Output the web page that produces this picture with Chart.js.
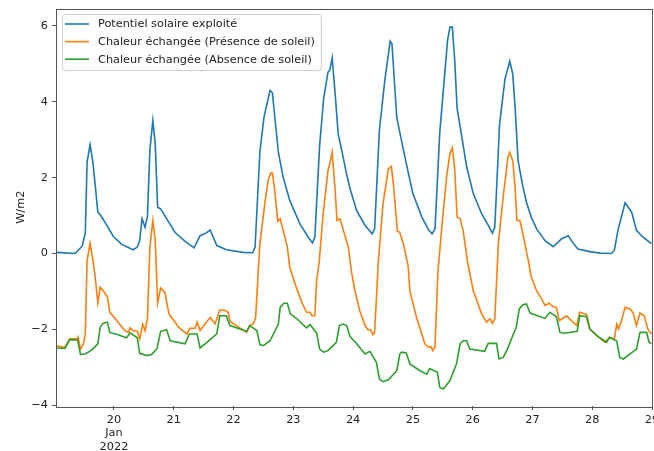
<!DOCTYPE html>
<html>
<head>
<meta charset="utf-8">
<script src="https://cdn.jsdelivr.net/npm/chart.js@4.4.0/dist/chart.umd.min.js"></script>
<style>
  html, body { margin: 0; padding: 0; background: #fff; overflow: hidden; }
  #wrap { position: relative; width: 654px; height: 451px; }
</style>
</head>
<body>
<div id="wrap"><canvas id="chaleurChart"></canvas></div>
<script>
// jours de janvier 2022 (fraction de jour)
const joursSolaire = [19.04, 19.35, 19.47, 19.52, 19.55, 19.60, 19.65, 19.73, 19.78, 19.88, 19.99, 20.13, 20.32, 20.39, 20.43, 20.47, 20.52, 20.56, 20.60, 20.65, 20.69, 20.73, 20.78, 20.88, 21.02, 21.19, 21.34, 21.44, 21.55, 21.61, 21.72, 21.88, 22.16, 22.32, 22.36, 22.44, 22.51, 22.61, 22.65, 22.69, 22.75, 22.83, 22.94, 23.11, 23.25, 23.32, 23.36, 23.44, 23.51, 23.58, 23.61, 23.65, 23.70, 23.75, 23.81, 23.89, 23.95, 24.06, 24.20, 24.32, 24.36, 24.44, 24.53, 24.62, 24.65, 24.73, 24.78, 24.89, 25.00, 25.15, 25.26, 25.32, 25.37, 25.45, 25.54, 25.58, 25.62, 25.66, 25.70, 25.74, 25.81, 25.90, 26.01, 26.15, 26.28, 26.33, 26.37, 26.45, 26.54, 26.62, 26.67, 26.71, 26.76, 26.83, 26.90, 26.98, 27.07, 27.21, 27.35, 27.49, 27.60, 27.65, 27.76, 27.96, 28.13, 28.32, 28.37, 28.43, 28.55, 28.66, 28.74, 28.85, 28.99];
const solaire = [0.03, 0.0, 0.2, 0.54, 2.41, 2.87, 2.37, 1.09, 1.0, 0.74, 0.45, 0.24, 0.1, 0.17, 0.34, 0.92, 0.69, 0.98, 2.72, 3.51, 2.89, 1.22, 1.18, 0.92, 0.56, 0.32, 0.15, 0.47, 0.55, 0.62, 0.21, 0.1, 0.03, 0.02, 0.17, 2.67, 3.6, 4.3, 4.24, 3.6, 2.67, 2.01, 1.4, 0.78, 0.43, 0.28, 0.43, 2.85, 4.12, 4.78, 4.83, 5.16, 4.21, 3.16, 2.72, 2.1, 1.7, 1.13, 0.74, 0.52, 0.65, 3.25, 4.56, 5.6, 5.53, 3.6, 3.2, 2.37, 1.58, 0.96, 0.63, 0.52, 0.65, 3.2, 4.87, 5.62, 5.97, 5.97, 5.09, 3.82, 3.16, 2.28, 1.58, 1.05, 0.69, 0.54, 0.69, 3.4, 4.6, 5.07, 4.74, 3.86, 2.45, 1.84, 1.35, 0.96, 0.65, 0.34, 0.18, 0.39, 0.47, 0.34, 0.12, 0.05, 0.01, 0.0, 0.08, 0.61, 1.34, 1.09, 0.61, 0.43, 0.26];

const joursPresence = [19.04, 19.18, 19.26, 19.39, 19.40, 19.44, 19.49, 19.52, 19.55, 19.60, 19.64, 19.68, 19.73, 19.77, 19.82, 19.89, 19.93, 20.05, 20.18, 20.24, 20.27, 20.32, 20.39, 20.43, 20.48, 20.52, 20.56, 20.60, 20.65, 20.69, 20.73, 20.78, 20.85, 20.92, 21.08, 21.22, 21.27, 21.36, 21.39, 21.44, 21.61, 21.69, 21.77, 21.86, 21.91, 21.94, 22.05, 22.22, 22.27, 22.33, 22.37, 22.44, 22.53, 22.58, 22.62, 22.65, 22.69, 22.74, 22.78, 22.83, 22.90, 22.94, 23.03, 23.14, 23.22, 23.28, 23.31, 23.36, 23.39, 23.43, 23.50, 23.58, 23.61, 23.65, 23.70, 23.73, 23.78, 23.83, 23.92, 23.97, 24.03, 24.11, 24.20, 24.25, 24.29, 24.33, 24.36, 24.42, 24.50, 24.59, 24.64, 24.68, 24.74, 24.78, 24.84, 24.92, 24.95, 25.06, 25.20, 25.26, 25.30, 25.33, 25.37, 25.42, 25.51, 25.57, 25.62, 25.66, 25.70, 25.74, 25.79, 25.84, 25.92, 26.01, 26.15, 26.23, 26.29, 26.33, 26.37, 26.43, 26.51, 26.59, 26.62, 26.67, 26.71, 26.74, 26.79, 26.84, 26.93, 26.98, 27.07, 27.15, 27.21, 27.28, 27.34, 27.40, 27.45, 27.57, 27.65, 27.74, 27.79, 27.91, 27.96, 28.07, 28.21, 28.29, 28.37, 28.41, 28.44, 28.49, 28.55, 28.63, 28.68, 28.74, 28.80, 28.87, 28.93, 28.99];
const presence = [-2.43, -2.47, -2.25, -2.25, -2.21, -2.52, -2.38, -2.12, -0.18, 0.27, -0.1, -0.54, -1.3, -0.89, -0.98, -1.15, -1.55, -1.77, -2.03, -2.08, -1.96, -2.03, -2.05, -2.25, -1.86, -2.03, -1.72, 0.17, 0.87, 0.34, -1.3, -0.91, -1.02, -1.59, -1.94, -2.12, -1.97, -1.97, -1.81, -2.03, -1.68, -1.86, -1.49, -1.5, -1.55, -1.79, -1.9, -2.08, -1.9, -1.86, -1.68, 0.25, 1.4, 1.93, 2.12, 2.12, 1.66, 0.85, 0.92, 0.61, 0.17, -0.36, -0.8, -1.28, -1.55, -1.55, -1.64, -1.64, -0.71, -0.27, 1.05, 2.19, 2.37, 2.67, 1.66, 0.87, 0.92, 0.65, 0.17, -0.45, -0.98, -1.5, -1.9, -2.01, -2.01, -2.14, -2.08, -0.27, 1.31, 2.23, 2.3, 1.75, 0.59, 0.56, 0.26, -0.32, -0.98, -1.68, -2.38, -2.47, -2.45, -2.56, -2.47, -0.45, 1.13, 2.1, 2.63, 2.79, 2.23, 0.96, 0.92, 0.61, -0.27, -0.98, -1.59, -1.81, -1.72, -1.84, -1.72, 0.26, 1.49, 2.54, 2.67, 2.45, 1.75, 0.87, 0.87, 0.52, -0.18, -0.62, -0.98, -1.19, -1.37, -1.31, -1.4, -1.42, -1.77, -1.64, -1.77, -1.9, -1.55, -1.61, -1.99, -2.16, -2.34, -2.21, -2.25, -1.86, -1.99, -1.77, -1.42, -1.46, -1.55, -1.9, -1.57, -1.64, -1.99, -2.12];

const joursAbsence = [19.04, 19.18, 19.26, 19.39, 19.44, 19.52, 19.63, 19.73, 19.77, 19.82, 19.89, 19.93, 20.07, 20.21, 20.27, 20.39, 20.43, 20.55, 20.63, 20.72, 20.78, 20.88, 20.94, 21.19, 21.26, 21.39, 21.44, 21.55, 21.72, 21.77, 21.88, 21.94, 22.22, 22.27, 22.39, 22.44, 22.50, 22.61, 22.75, 22.78, 22.84, 22.90, 22.95, 23.06, 23.22, 23.28, 23.39, 23.44, 23.51, 23.58, 23.72, 23.77, 23.83, 23.89, 23.95, 24.06, 24.20, 24.28, 24.39, 24.44, 24.50, 24.59, 24.73, 24.78, 24.81, 24.89, 24.95, 25.12, 25.23, 25.28, 25.41, 25.45, 25.51, 25.62, 25.73, 25.79, 25.84, 25.90, 25.95, 26.20, 26.26, 26.40, 26.44, 26.51, 26.57, 26.73, 26.78, 26.84, 26.90, 26.96, 27.21, 27.29, 27.40, 27.46, 27.54, 27.75, 27.79, 27.90, 27.96, 28.10, 28.24, 28.29, 28.41, 28.46, 28.52, 28.74, 28.80, 28.91, 28.95, 28.99];
const absence = [-2.49, -2.5, -2.27, -2.28, -2.66, -2.65, -2.54, -2.38, -1.94, -1.84, -1.81, -2.08, -2.14, -2.22, -2.09, -2.22, -2.63, -2.69, -2.66, -2.51, -2.05, -2.01, -2.3, -2.38, -2.12, -2.12, -2.49, -2.35, -2.12, -1.64, -1.64, -1.9, -2.05, -1.9, -2.03, -2.4, -2.43, -2.3, -1.86, -1.42, -1.31, -1.31, -1.59, -1.72, -1.96, -1.87, -2.1, -2.52, -2.6, -2.56, -2.34, -1.9, -1.86, -1.9, -2.19, -2.38, -2.65, -2.58, -2.87, -3.31, -3.38, -3.33, -3.09, -2.65, -2.6, -2.62, -2.91, -3.09, -3.18, -3.03, -3.13, -3.53, -3.57, -3.35, -2.91, -2.38, -2.3, -2.3, -2.52, -2.58, -2.37, -2.37, -2.78, -2.74, -2.56, -1.94, -1.46, -1.35, -1.33, -1.57, -1.71, -1.55, -1.66, -2.08, -2.1, -2.05, -1.64, -1.66, -1.99, -2.19, -2.34, -2.21, -2.31, -2.74, -2.78, -2.52, -2.08, -2.08, -2.34, -2.37];

const xTicks = [20, 21, 22, 23, 24, 25, 26, 27, 28, 29];
const yTicks = [-4, -2, 0, 2, 4, 6];

const police = { family: "'DejaVu Sans', sans-serif", size: 11.3 };
const couleurTexte = "#222";
const couleurCadre = "#555";

const toPoints = (xs, ys) => xs.map((x, i) => ({ x: x, y: ys[i] }));

// cadre complet + légende dans la zone du graphique, façon matplotlib
const cadrePlugin = {
    id: "cadre",
    afterDraw(chart) {
        const { ctx, chartArea } = chart;
        const { left, top, right, bottom } = chartArea;
        ctx.save();
        ctx.strokeStyle = couleurCadre;
        ctx.lineWidth = 1;
        ctx.strokeRect(Math.round(left) + 0.5, Math.round(top) + 0.5,
            Math.round(right - left), Math.round(bottom - top));

        ctx.font = police.size + "px " + police.family;
        const sets = chart.data.datasets;
        const boxX = left + 6;
        const boxY = top + 5.5;
        const textX = boxX + 36;
        const maxW = Math.max(...sets.map((d) => ctx.measureText(d.label).width));
        const boxW = textX - boxX + maxW + 6;
        const boxH = 56;

        ctx.beginPath();
        ctx.roundRect(boxX + 0.5, boxY + 0.5, boxW, boxH, 3);
        ctx.fillStyle = "rgba(255,255,255,0.8)";
        ctx.fill();
        ctx.strokeStyle = "#cccccc";
        ctx.stroke();

        ctx.textBaseline = "middle";
        ctx.textAlign = "left";
        sets.forEach((d, i) => {
            const y = boxY + 10 + i * 17.6;
            ctx.beginPath();
            ctx.moveTo(boxX + 3, y);
            ctx.lineTo(boxX + 27, y);
            ctx.strokeStyle = d.borderColor;
            ctx.lineWidth = 1.6;
            ctx.stroke();
            ctx.fillStyle = couleurTexte;
            ctx.fillText(d.label, textX, y + 0.5);
        });
        ctx.restore();
    },
};

new Chart(document.getElementById("chaleurChart"), {
    type: "line",
    data: {
        datasets: [
            {
                label: "Potentiel solaire exploité",
                data: toPoints(joursSolaire, solaire),
                borderColor: "#1f77b4",
                order: 3,
            },
            {
                label: "Chaleur échangée (Présence de soleil)",
                data: toPoints(joursPresence, presence),
                borderColor: "#ff7f0e",
                order: 2,
            },
            {
                label: "Chaleur échangée (Absence de soleil)",
                data: toPoints(joursAbsence, absence),
                borderColor: "#2ca02c",
                order: 1,
            },
        ],
    },
    options: {
        responsive: true,
        maintainAspectRatio: false,
        animation: false,
        elements: {
            line: { borderWidth: 1.6, tension: 0, fill: false },
            point: { radius: 0, hoverRadius: 0 },
        },
        layout: { padding: { top: 8.5, right: 2, left: 0, bottom: 0 } },
        scales: {
            x: {
                type: "linear",
                min: 19.03,
                max: 29.0,
                afterBuildTicks: (scale) => {
                    scale.ticks = xTicks.map((v) => ({ value: v }));
                },
                afterFit: (scale) => {
                    scale.height = 45;
                    scale.paddingLeft = 0;
                    scale.paddingRight = 0;
                },
                border: { display: false },
                grid: { drawOnChartArea: false, drawTicks: true, tickLength: 4, color: couleurCadre },
                ticks: {
                    autoSkip: false,
                    maxRotation: 0,
                    padding: 3,
                    color: couleurTexte,
                    font: police,
                    callback: (v) => (v === 20 ? ["20", "Jan", "2022"] : String(v)),
                },
            },
            y: {
                min: -4.02,
                max: 6.46,
                afterBuildTicks: (scale) => {
                    scale.ticks = yTicks.map((v) => ({ value: v }));
                },
                afterFit: (scale) => {
                    scale.width = 56;
                    scale.paddingTop = 0;
                    scale.paddingBottom = 0;
                },
                border: { display: false },
                grid: { drawOnChartArea: false, drawTicks: true, tickLength: 4, color: couleurCadre },
                ticks: {
                    padding: 4,
                    color: couleurTexte,
                    font: police,
                    callback: (v) => String(v).replace("-", "\u2212"),
                },
                title: {
                    display: true,
                    text: "W/m2",
                    color: couleurTexte,
                    font: police,
                    padding: { top: 14, bottom: 0 },
                },
            },
        },
        plugins: {
            legend: { display: false },
            tooltip: { enabled: false },
        },
    },
    plugins: [cadrePlugin],
});
</script>
</body>
</html>
